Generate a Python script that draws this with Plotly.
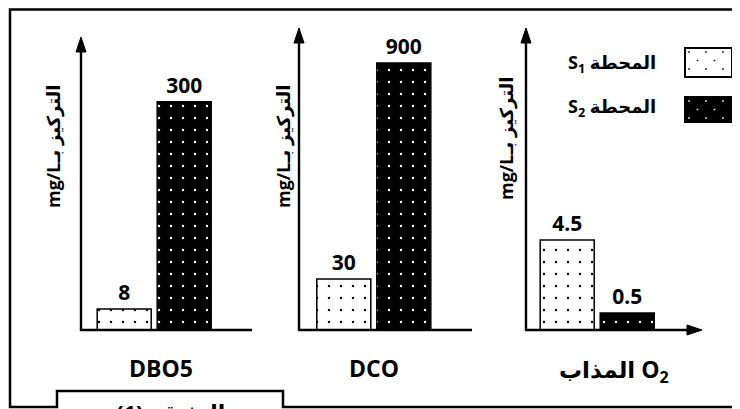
import plotly.graph_objects as go

# ---- data ----
categories = ["DBO5", "DCO", "المذاب O<sub>2</sub>"]
series_names = ["المحطة S1", "المحطة S2"]
s1_values = [8, 30, 4.5]
s2_values = [300, 900, 0.5]
y_title = "\u202bالتركيز بـmg/L\u202c"

# page has an 8px body margin: figure fills the rest of the 740x409 window
OFF = 8
W, H = 740 - OFF, 409 - OFF
def px(x):
    return (x - OFF) / W
def py(y):
    return 1 - (y - OFF) / H

FONT = "Open Sans, DejaVu Sans, sans-serif"

# panel geometry (window pixels)
panels = [
    dict(x0=81, x1=252, center=154.2, yrange=[0.7436, 3.0367], ytip=37, arrow_x=False,
         title_xy=(53, 146), label_xy=(161, 368)),
    dict(x0=299, x1=472, center=373.8, yrange=[1.1283, 3.194], ytip=28, arrow_x=False,
         title_xy=(283, 146), label_xy=(374, 368)),
    dict(x0=526, x1=702, center=597.2, yrange=[-0.5233, 3.4244], ytip=28, arrow_x=True,
         title_xy=(506, 138), label_xy=(614, 370)),
]
Y_BOTTOM, Y_TOP = 330, 28
UNIT = 120.0  # px per category unit

fig = go.Figure()
shapes = []
annotations = []

def ann(text, x, y, size, **kw):
    d = dict(text=text, xref="paper", yref="paper", x=px(x), y=py(y),
             xanchor="center", yanchor="middle", showarrow=False,
             font=dict(family=FONT, size=size, color="black", weight="bold"))
    d.update(kw)
    return d

for i, p in enumerate(panels):
    n = "" if i == 0 else str(i + 1)
    xa, ya = "x" + n, "y" + n
    for vals, bg, fg in ((s1_values, "white", "black"), (s2_values, "black", "white")):
        fig.add_trace(go.Bar(
            x=[categories[i]], y=[vals[i]], xaxis=xa, yaxis=ya,
            text=[str(vals[i])], textposition="outside", cliponaxis=False,
            constraintext="none",
            textfont=dict(family=FONT, size=21, color="black", weight="bold"),
            marker=dict(color=bg, line=dict(color="black", width=1.5),
                        pattern=dict(shape=".", bgcolor=bg, fgcolor=fg, size=12,
                                     solidity=0.03, fillmode="replace")),
            showlegend=False, hoverinfo="skip",
        ))
    r0 = (p["x0"] - p["center"]) / UNIT
    r1 = (p["x1"] - p["center"]) / UNIT
    fig.layout["xaxis" + n] = dict(domain=[px(p["x0"]), px(p["x1"])], range=[r0, r1],
                                   visible=False, anchor=ya, type="category")
    fig.layout["yaxis" + n] = dict(domain=[py(Y_BOTTOM), py(Y_TOP)], type="log",
                                   range=p["yrange"], visible=False, anchor=xa)

    # axis lines
    lw = 2.4
    shapes.append(dict(type="line", xref="paper", yref="paper",
                       x0=px(p["x0"]), x1=px(p["x0"]), y0=py(Y_BOTTOM + 1), y1=py(p["ytip"] + 12),
                       line=dict(color="black", width=lw)))
    xend = p["x1"] - 12 if p["arrow_x"] else p["x1"]
    shapes.append(dict(type="line", xref="paper", yref="paper",
                       x0=px(p["x0"] - 1), x1=px(xend), y0=py(Y_BOTTOM), y1=py(Y_BOTTOM),
                       line=dict(color="black", width=lw)))
    # y arrowhead
    tx, ty = p["x0"], p["ytip"]
    shapes.append(dict(type="path", xref="paper", yref="paper",
                       path=f"M{px(tx)},{py(ty)} L{px(tx-5)},{py(ty+15)} L{px(tx+5)},{py(ty+15)} Z",
                       fillcolor="black", line=dict(color="black", width=1)))
    if p["arrow_x"]:
        ex = p["x1"]
        shapes.append(dict(type="path", xref="paper", yref="paper",
                           path=f"M{px(ex)},{py(Y_BOTTOM)} L{px(ex-15)},{py(Y_BOTTOM-5)} L{px(ex-15)},{py(Y_BOTTOM+5)} Z",
                           fillcolor="black", line=dict(color="black", width=1)))
    # y title
    annotations.append(ann(y_title, p["title_xy"][0], p["title_xy"][1], 18, textangle=-90))
    # category label
    annotations.append(ann(categories[i], p["label_xy"][0], p["label_xy"][1], 23))

# outer frame (top edge kept just inside the drawable area)
frame = [(741, 407), (283, 407), (283, 391), (57, 391), (57, 407), (10, 407), (10, 9.5), (741, 9.5)]
shapes.append(dict(type="path", xref="paper", yref="paper",
                   path="M" + " L".join(f"{px(a)},{py(b)}" for a, b in frame),
                   line=dict(color="black", width=2.5)))

# legend swatches
def dots_path(x0, y0, x1, y1):
    parts = []
    row = 0
    y = y0 + 4
    while y < y1 - 1:
        x = x0 + (4 if row % 2 == 0 else 12.5)
        while x < x1 - 1:
            parts.append(f"M{px(x-0.8)},{py(y-0.8)} L{px(x+0.8)},{py(y-0.8)} "
                         f"L{px(x+0.8)},{py(y+0.8)} L{px(x-0.8)},{py(y+0.8)} Z")
            x += 17
        y += 8.5
        row += 1
    return " ".join(parts)

legend_boxes = [((685, 48, 732, 77), "white", "black", 63),
                ((685, 97, 732, 122), "black", "white", 107)]
for (name, ((x0, y0, x1, y1), bg, fg, ty)) in zip(series_names, legend_boxes):
    shapes.append(dict(type="rect", xref="paper", yref="paper",
                       x0=px(x0), x1=px(x1), y0=py(y1), y1=py(y0),
                       fillcolor=bg, line=dict(color="black", width=2)))
    shapes.append(dict(type="path", xref="paper", yref="paper",
                       path=dots_path(x0, y0, x1, y1), fillcolor=fg,
                       line=dict(color=fg, width=0)))
    label = "S<sub>" + name[-1] + "</sub> " + name.split(" ")[0]
    annotations.append(ann(label, 658, ty, 18, xanchor="right"))

# cut-off caption at the bottom
annotations.append(ann("الوثيقة (1)", 170, 412, 22))

fig.update_layout(
    width=W, height=H, margin=dict(l=0, r=0, t=0, b=0),
    paper_bgcolor="white", plot_bgcolor="rgba(0,0,0,0)",
    barmode="group", bargap=0, bargroupgap=0.1,
    shapes=shapes, annotations=annotations,
    font=dict(family=FONT),
)

fig.write_html("out.html")
